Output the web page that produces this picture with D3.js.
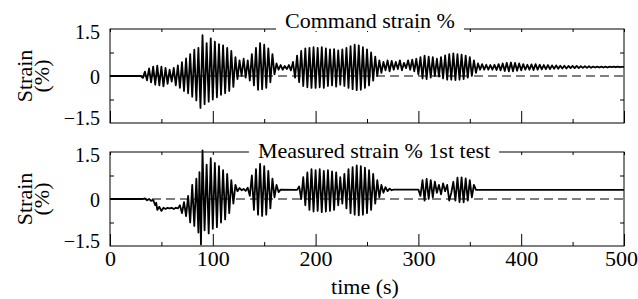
<!DOCTYPE html>
<html>
<head>
<meta charset="utf-8">
<script src="https://cdn.jsdelivr.net/npm/d3@7"></script>
<style>
  body { margin: 0; background: #fff; }
  svg { display: block; }
  text { font-family: "Liberation Serif", "Times New Roman", serif; fill: #000; }
</style>
</head>
<body>
<div id="chart"></div>
<script>
// ---- data (time s, strain %) ----
const timeTicks = [0, 100, 200, 300, 400, 500];
const timeMinorTicks = [50, 150, 250, 350, 450];
const strainTicks = [-1.5, 0, 1.5];
const strainMinorTicks = [-0.75, 0.75];
const panelTitles = ["Command strain %", "Measured strain % 1st test"];
const xLabel = "time (s)";
const yLabel = ["Strain", "(%)"];

// peaks and troughs of the command signal
const commandStrain = [
  [0, 0], [30, 0], [32, -0.06], [34, 0.14], [36, -0.14], [38, 0.24], [40, -0.2], [42, 0.3], [44, -0.28], [46, 0.33],
  [48, -0.3], [50, 0.3], [52, -0.33], [54, 0.26], [56, -0.25], [58, 0.2], [60, -0.18], [62, 0.26], [64, -0.3], [66, 0.34],
  [68, -0.38], [70, 0.44], [72, -0.48], [74, 0.56], [76, -0.55], [78, 0.7], [80, -0.66], [82, 0.84], [84, -0.78], [86, 0.9],
  [88, -1.02], [90, 1.3], [92, -0.9], [94, 1.05], [96, -0.82], [98, 1.2], [100, -0.75], [102, 1.1], [104, -0.68], [106, 1.02],
  [108, -0.6], [110, 0.98], [112, -0.55], [114, 0.9], [116, -0.48], [118, 0.8], [120, -0.35], [122, 0.6], [124, -0.1], [126, 0.5],
  [128, 0.0], [130, 0.55], [132, -0.05], [134, 0.5], [136, -0.15], [138, 0.7], [140, -0.3], [142, 0.9], [144, -0.44], [146, 1.05],
  [148, -0.42], [150, 1.0], [152, -0.38], [154, 0.88], [156, -0.2], [158, 0.7], [160, 0.05], [162, 0.4], [164, 0.2], [166, 0.35],
  [168, 0.2], [170, 0.32], [172, 0.22], [174, 0.35], [176, 0.18], [178, 0.45], [180, -0.05], [182, 0.65], [184, -0.2], [186, 0.8],
  [188, -0.32], [190, 0.88], [192, -0.36], [194, 0.9], [196, -0.38], [198, 0.92], [200, -0.38], [202, 0.9], [204, -0.36], [206, 0.92],
  [208, -0.38], [210, 0.88], [212, -0.32], [214, 0.85], [216, -0.3], [218, 0.86], [220, -0.34], [222, 0.82], [224, -0.28], [226, 0.85],
  [228, -0.32], [230, 0.9], [232, -0.38], [234, 0.95], [236, -0.42], [238, 1.0], [240, -0.45], [242, 0.98], [244, -0.44], [246, 0.92],
  [248, -0.38], [250, 0.85], [252, -0.3], [254, 0.75], [256, -0.15], [258, 0.62], [260, 0.0], [262, 0.5], [264, 0.1], [266, 0.45],
  [268, 0.18], [270, 0.5], [272, 0.15], [274, 0.48], [276, 0.2], [278, 0.45], [280, 0.22], [282, 0.5], [284, 0.18], [286, 0.42],
  [288, 0.25], [290, 0.5], [292, 0.2], [294, 0.52], [296, 0.15], [298, 0.55], [300, 0.05], [302, 0.6], [304, -0.08], [306, 0.65],
  [308, -0.1], [310, 0.62], [312, -0.05], [314, 0.6], [316, 0.0], [318, 0.55], [320, -0.02], [322, 0.6], [324, -0.08], [326, 0.66],
  [328, -0.12], [330, 0.7], [332, -0.12], [334, 0.72], [336, -0.13], [338, 0.7], [340, -0.12], [342, 0.68], [344, -0.1], [346, 0.65],
  [348, -0.05], [350, 0.6], [352, 0.0], [354, 0.5], [356, 0.1], [358, 0.4], [360, 0.2], [362, 0.38], [364, 0.2], [366, 0.36],
  [368, 0.2], [370, 0.35], [372, 0.2], [374, 0.36], [376, 0.19], [378, 0.38], [380, 0.18], [382, 0.4], [384, 0.16], [386, 0.42],
  [388, 0.15], [390, 0.43], [392, 0.15], [394, 0.42], [396, 0.17], [398, 0.4], [400, 0.18], [402, 0.38], [404, 0.2], [406, 0.36],
  [408, 0.2], [410, 0.37], [412, 0.19], [414, 0.38], [416, 0.2], [418, 0.36], [420, 0.21], [422, 0.35], [424, 0.22], [426, 0.35],
  [428, 0.22], [430, 0.34], [432, 0.23], [434, 0.34], [436, 0.23], [438, 0.33], [440, 0.24], [442, 0.33], [444, 0.24], [446, 0.32],
  [448, 0.25], [450, 0.32], [452, 0.25], [454, 0.32], [456, 0.25], [458, 0.31], [460, 0.26], [462, 0.31], [464, 0.26], [466, 0.31],
  [468, 0.26], [470, 0.3], [472, 0.27], [474, 0.3], [476, 0.27], [478, 0.3], [480, 0.27], [482, 0.3], [484, 0.27], [486, 0.3],
  [488, 0.28], [490, 0.3], [492, 0.28], [494, 0.3], [496, 0.28], [498, 0.29], [500, 0.29]
];

// peaks and troughs of the measured signal (1st test)
const measuredStrain = [
  [0, 0], [32, 0], [34, 0.02], [36, -0.04], [38, 0.0], [40, -0.06], [42, -0.03], [44, -0.2], [45, -0.12], [46, -0.35],
  [48, -0.25], [50, -0.38], [52, -0.28], [54, -0.32], [56, -0.28], [58, -0.3], [60, -0.28], [62, -0.32], [64, -0.28], [66, -0.3],
  [68, -0.2], [70, -0.45], [72, -0.1], [74, -0.55], [76, 0.1], [78, -0.75], [80, 0.45], [82, -0.86], [84, 0.65], [86, -1.07],
  [87, 0.86], [88.5, -1.45], [90, 1.55], [92, -1.0], [94, 1.1], [96, -1.1], [98, 1.3], [100, -0.95], [102, 1.15], [104, -0.9],
  [106, 1.05], [108, -0.75], [110, 0.92], [112, -0.65], [114, 0.8], [116, -0.45], [118, 0.6], [120, -0.15], [122, 0.45], [124, 0.25],
  [126, 0.35], [128, 0.28], [130, 0.32], [132, 0.26], [134, 0.36], [136, 0.1], [138, 0.75], [140, -0.35], [142, 0.95], [144, -0.5],
  [146, 1.12], [148, -0.54], [150, 1.05], [152, -0.5], [154, 0.9], [156, -0.3], [158, 0.65], [160, 0.05], [162, 0.45], [164, 0.22],
  [166, 0.3], [182, 0.29], [184, 0.4], [186, 0.0], [188, 0.7], [190, -0.2], [192, 0.85], [194, -0.35], [196, 0.95], [198, -0.4],
  [200, 0.92], [202, -0.38], [204, 0.95], [206, -0.42], [208, 0.9], [210, -0.4], [212, 0.92], [214, -0.38], [216, 0.88], [218, -0.35],
  [220, 0.85], [222, -0.2], [224, 0.7], [226, -0.15], [228, 0.8], [230, -0.3], [232, 0.95], [234, -0.45], [236, 1.02], [238, -0.5],
  [240, 1.07], [242, -0.52], [244, 1.05], [246, -0.5], [248, 1.0], [250, -0.45], [252, 0.92], [254, -0.35], [256, 0.8], [258, -0.15],
  [260, 0.6], [262, 0.05], [264, 0.45], [266, 0.2], [268, 0.38], [270, 0.25], [272, 0.33], [274, 0.28], [276, 0.3], [300, 0.3],
  [302, 0.1], [304, 0.6], [306, -0.05], [308, 0.64], [310, 0.0], [312, 0.6], [314, 0.05], [316, 0.55], [318, 0.2], [320, 0.45],
  [322, 0.15], [324, 0.5], [326, 0.25], [328, 0.45], [330, -0.05], [332, 0.2], [334, 0.55], [336, -0.05], [338, 0.68], [340, -0.1],
  [342, 0.69], [344, -0.11], [346, 0.66], [348, -0.05], [350, 0.6], [352, 0.05], [354, 0.45], [356, 0.29], [500, 0.29]
];

// ---- layout ----
const W = 638, H = 299;
const margin = { left: 110, right: 14 };
const plotW = W - margin.left - margin.right;
const serif = '"Liberation Serif", "Times New Roman", serif';
const panels = [
  { top: 29, height: 94, data: commandStrain, title: panelTitles[0], titleX: 370, titleY: -1, labels: false },
  { top: 152, height: 94, data: measuredStrain, title: panelTitles[1], titleX: 374, titleY: 6, labels: true }
];

const svg = d3.select("#chart").append("svg")
  .attr("width", W)
  .attr("height", H);

const x = d3.scaleLinear().domain([0, 500]).range([0, plotW]);

panels.forEach(function (p) {
  const y = d3.scaleLinear().domain([-1.5, 1.5]).range([p.height, 0]);
  const g = svg.append("g").attr("transform", "translate(" + margin.left + "," + p.top + ")");

  // zero reference line (dashed)
  g.append("line")
    .attr("x1", x(0)).attr("x2", x(500))
    .attr("y1", y(0)).attr("y2", y(0))
    .attr("stroke", "#000").attr("stroke-width", 1.2)
    .attr("stroke-dasharray", "9,5");

  // signal
  const line = d3.line().x(d => x(d[0])).y(d => y(d[1]));
  g.append("path")
    .datum(p.data)
    .attr("d", line)
    .attr("fill", "none")
    .attr("stroke", "#000")
    .attr("stroke-width", 1.8)
    .attr("stroke-linejoin", "round");

  // frame
  g.append("rect")
    .attr("x", 0).attr("y", 0)
    .attr("width", plotW).attr("height", p.height)
    .attr("fill", "none").attr("stroke", "#000").attr("stroke-width", 1);

  // bottom axis: long ticks every 100, short ticks every 50
  const xAxis = d3.axisBottom(x).tickValues(timeTicks).tickSizeInner(-12).tickSizeOuter(0).tickPadding(4)
    .tickFormat(p.labels ? d3.format("d") : "");
  const gx = g.append("g").attr("transform", "translate(0," + p.height + ")").call(xAxis);
  g.append("g").attr("transform", "translate(0," + p.height + ")")
    .call(d3.axisBottom(x).tickValues(timeMinorTicks).tickSizeInner(-4).tickSizeOuter(0).tickFormat(""));
  g.append("g")
    .call(d3.axisTop(x).tickValues(timeMinorTicks.concat(timeTicks)).tickSizeInner(-3).tickSizeOuter(0).tickFormat(""));

  // y axes
  const gy = g.append("g")
    .call(d3.axisLeft(y).tickValues(strainTicks).tickSizeInner(0).tickSizeOuter(0).tickPadding(10)
      .tickFormat(d3.format(".1~f")));
  g.append("g")
    .call(d3.axisLeft(y).tickValues(strainMinorTicks).tickSizeInner(-4).tickSizeOuter(0).tickFormat(""));
  g.append("g").attr("transform", "translate(" + plotW + ",0)")
    .call(d3.axisRight(y).tickValues(strainMinorTicks).tickSizeInner(-4).tickSizeOuter(0).tickFormat(""));

  svg.selectAll(".domain").remove();
  g.selectAll(".tick line").attr("stroke", "#000");

  gy.selectAll("text")
    .style("font-family", serif)
    .style("font-size", "20px")
    .attr("dy", d => d > 0 ? "0.48em" : (d < 0 ? "0.08em" : "0.35em"));
  gx.selectAll("text")
    .style("font-family", serif)
    .style("font-size", "22px")
    .attr("dx", d => d === 500 ? -3 : 0);

  // panel title over the top frame
  const tg = svg.append("g");
  const bg = tg.append("rect").attr("fill", "#fff");
  const tt = tg.append("text")
    .attr("x", p.titleX)
    .attr("y", p.top + p.titleY)
    .attr("text-anchor", "middle")
    .style("font-family", serif)
    .style("font-size", "22px")
    .text(p.title);
  const bb = tt.node().getBBox();
  bg.attr("x", bb.x - 9).attr("width", bb.width + 18)
    .attr("y", p.top - 2).attr("height", 4);

  // y label
  const midY = p.top + p.height / 2;
  svg.append("text")
    .attr("transform", "translate(32," + midY + ") rotate(-90)")
    .attr("text-anchor", "middle")
    .style("font-family", serif)
    .style("font-size", "22px")
    .text(yLabel[0]);
  svg.append("text")
    .attr("transform", "translate(49," + midY + ") rotate(-90)")
    .attr("text-anchor", "middle")
    .style("font-family", serif)
    .style("font-size", "22px")
    .text(yLabel[1]);
});

svg.append("text")
  .attr("x", margin.left + plotW / 2 - 2)
  .attr("y", 294)
  .attr("text-anchor", "middle")
  .style("font-family", serif)
  .style("font-size", "22px")
  .text(xLabel);
</script>
</body>
</html>
